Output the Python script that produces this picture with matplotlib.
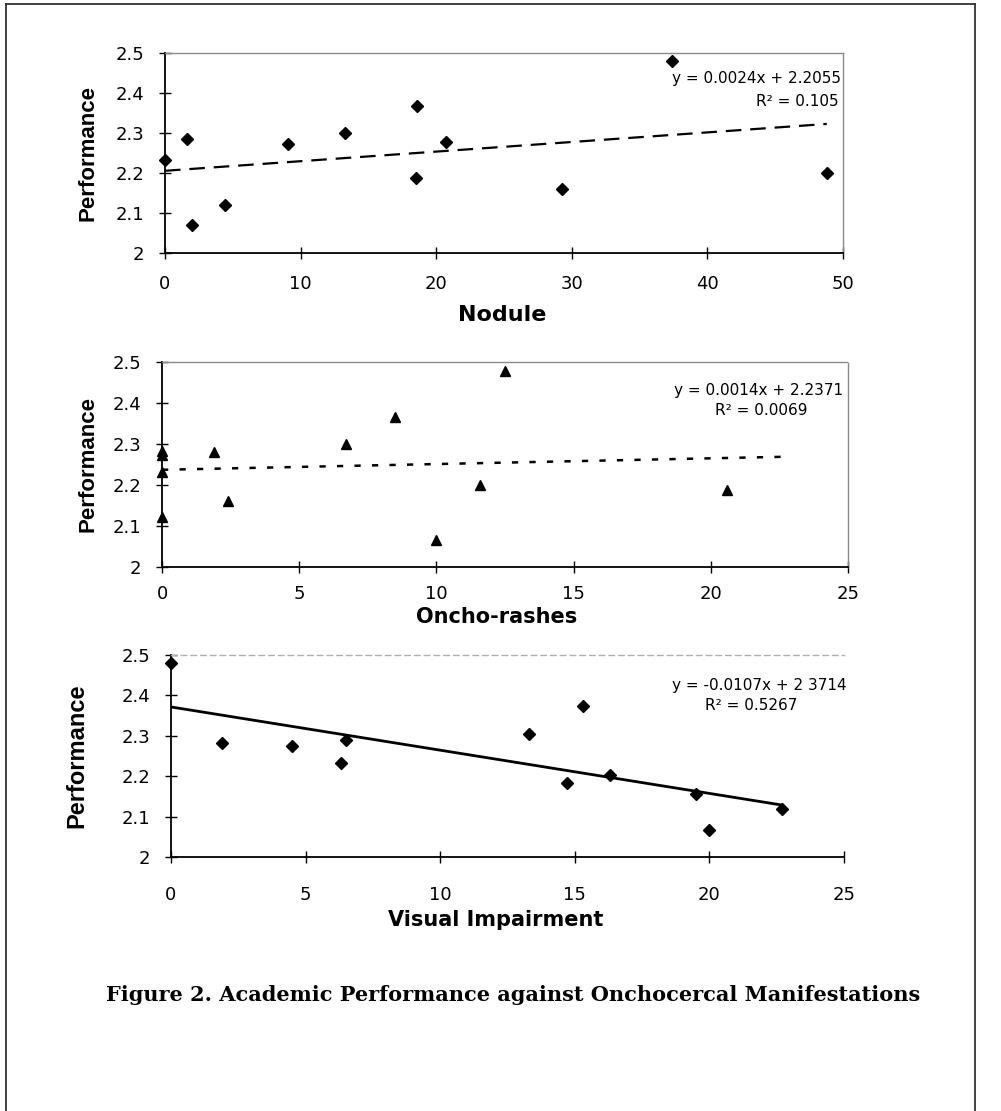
import matplotlib
matplotlib.use('Agg')
import matplotlib.pyplot as plt
from matplotlib.lines import Line2D

plt.rcParams['font.family'] = ['DejaVu Sans']

# ---------------- data ----------------
nodule_x = [0, 1.6, 2.0, 4.4, 9.1, 13.3, 18.6, 18.5, 20.7, 29.3, 37.4, 48.8]
nodule_y = [2.233, 2.286, 2.070, 2.119, 2.273, 2.299, 2.367, 2.187, 2.278, 2.159, 2.481, 2.200]
nodule_fit = (0.0024, 2.2055)
nodule_fit_range = [0, 48.8]
nodule_eq = ["y = 0.0024x + 2.2055", "R² = 0.105"]

rash_x = [0, 0, 0, 0, 1.9, 2.4, 6.7, 8.5, 10.0, 11.6, 12.5, 20.6]
rash_y = [2.282, 2.274, 2.231, 2.122, 2.280, 2.161, 2.301, 2.365, 2.066, 2.200, 2.479, 2.187]
rash_fit = (0.0014, 2.2371)
rash_fit_range = [0, 22.7]
rash_eq = ["y = 0.0014x + 2.2371", "R² = 0.0069"]

visual_x = [0, 1.9, 4.5, 6.3, 6.5, 13.3, 14.7, 15.3, 16.3, 19.5, 20.0, 22.7]
visual_y = [2.481, 2.281, 2.274, 2.232, 2.289, 2.304, 2.184, 2.373, 2.203, 2.156, 2.068, 2.119]
visual_fit = (-0.0107, 2.3714)
visual_fit_range = [0, 22.7]
visual_eq = ["y = -0.0107x + 2 3714", "R² = 0.5267"]

y_ticks = [2.0, 2.1, 2.2, 2.3, 2.4, 2.5]
y_tick_labels = ["2", "2.1", "2.2", "2.3", "2.4", "2.5"]
nodule_ticks = [0, 10, 20, 30, 40, 50]
small_ticks = [0, 5, 10, 15, 20, 25]

y_label = "Performance"
x_labels = ["Nodule", "Oncho-rashes", "Visual Impairment"]
caption = "Figure 2. Academic Performance against Onchocercal Manifestations"

# ---------------- figure ----------------
W, H = 1001, 1111
fig = plt.figure(figsize=(W / 100, H / 100), dpi=100)
fig.patch.set_facecolor('white')


def px_axes(left, right, top, bottom):
    return fig.add_axes([left / W, 1 - bottom / H, (right - left) / W, (bottom - top) / H])


def style(ax, xticks, xlim, xpad, right_visible=True, top_style=(0, (1, 1))):
    ax.set_xlim(*xlim)
    ax.set_ylim(2.0, 2.5)
    ax.set_xticks(xticks)
    ax.set_xticklabels([str(t) for t in xticks])
    ax.set_yticks(y_ticks)
    ax.set_yticklabels(y_tick_labels)
    ax.tick_params(axis='both', direction='inout', length=8, width=1.0,
                   labelsize=13, colors='black')
    ax.tick_params(axis='y', pad=11)
    ax.tick_params(axis='x', pad=xpad)
    for s in ('left', 'bottom'):
        ax.spines[s].set_color('black')
        ax.spines[s].set_linewidth(1.3)
    ax.spines['top'].set_color('#8a8a8a')
    ax.spines['top'].set_linewidth(1.0)
    ax.spines['top'].set_linestyle(top_style)
    if right_visible:
        ax.spines['right'].set_color('#8a8a8a')
        ax.spines['right'].set_linewidth(1.0)
        ax.spines['right'].set_linestyle((0, (1, 1)))
    else:
        ax.spines['right'].set_visible(False)
    ax.set_facecolor('none')


def eq_text(ax, lines, x1, y1, x2, y2):
    ax.text(x1, y1, lines[0], transform=ax.transAxes, ha='right', va='center',
            fontsize=11, color='black')
    ax.text(x2, y2, lines[1], transform=ax.transAxes, ha='center', va='center',
            fontsize=11, color='black')


# Panel 1
ax1 = px_axes(165, 843, 53, 253)
style(ax1, nodule_ticks, (0, 50), 12)
fx = nodule_fit_range
ax1.plot(fx, [nodule_fit[0] * v + nodule_fit[1] for v in fx], color='black', lw=1.6,
         linestyle=(0, (7, 4)), zorder=2)
ax1.plot(nodule_x, nodule_y, linestyle='none', marker='D', ms=6, color='black',
         clip_on=False, zorder=3)
eq_text(ax1, nodule_eq, 0.997, 0.875, 0.932, 0.76)

# Panel 2
ax2 = px_axes(162, 848, 362, 567)
style(ax2, small_ticks, (0, 25), 9)
fx = rash_fit_range
ax2.plot(fx, [rash_fit[0] * v + rash_fit[1] for v in fx], color='black', lw=1.8,
         linestyle=(0, (2.5, 4.5)), zorder=2)
ax2.plot(rash_x, rash_y, linestyle='none', marker='^', ms=7.5, color='black',
         clip_on=False, zorder=3)
eq_text(ax2, rash_eq, 0.993, 0.863, 0.873, 0.761)

# Panel 3
ax3 = px_axes(171, 844, 655, 857)
style(ax3, small_ticks, (0, 25), 17, right_visible=False, top_style=(0, (4, 3)))
ax3.spines['top'].set_color('#b0b0b0')
fx = visual_fit_range
ax3.plot(fx, [visual_fit[0] * v + visual_fit[1] for v in fx], color='black', lw=2.0,
         zorder=2)
ax3.plot(visual_x, visual_y, linestyle='none', marker='D', ms=6, color='black',
         clip_on=False, zorder=3)
eq_text(ax3, visual_eq, 1.004, 0.851, 0.862, 0.752)

# axis labels
lab_kw = dict(fontsize=16, fontweight='bold', color='black', ha='center', va='center')
fig.text(502 / W, 1 - 315 / H, x_labels[0], **lab_kw)
fig.text(497 / W, 1 - 617 / H, x_labels[1], **dict(lab_kw, fontsize=15))
fig.text(496 / W, 1 - 920 / H, x_labels[2], **dict(lab_kw, fontsize=15))

ylab_kw = dict(fontsize=16, fontweight='bold', color='black', ha='center', va='center',
               rotation=90, family=['Liberation Sans', 'DejaVu Sans'])
fig.text(88 / W, 1 - 153 / H, y_label, **ylab_kw)
fig.text(88 / W, 1 - 464 / H, y_label, **ylab_kw)
fig.text(77 / W, 1 - 756 / H, y_label, **dict(ylab_kw, fontsize=17))

# caption
fig.text(513 / W, 1 - 995 / H, caption, fontsize=15, fontweight='bold',
         family=['DejaVu Serif'], ha='center', va='center', color='black')

# page frame
frame_kw = dict(color='#333333', lw=1.3, transform=fig.transFigure)
fig.add_artist(Line2D([6 / W, 6 / W], [0, 1 - 4 / H], **frame_kw))
fig.add_artist(Line2D([6 / W, 975 / W], [1 - 4 / H, 1 - 4 / H], **frame_kw))
fig.add_artist(Line2D([975 / W, 975 / W], [0, 1 - 4 / H], **frame_kw))

fig.savefig('out.png', dpi=100, facecolor='white')
